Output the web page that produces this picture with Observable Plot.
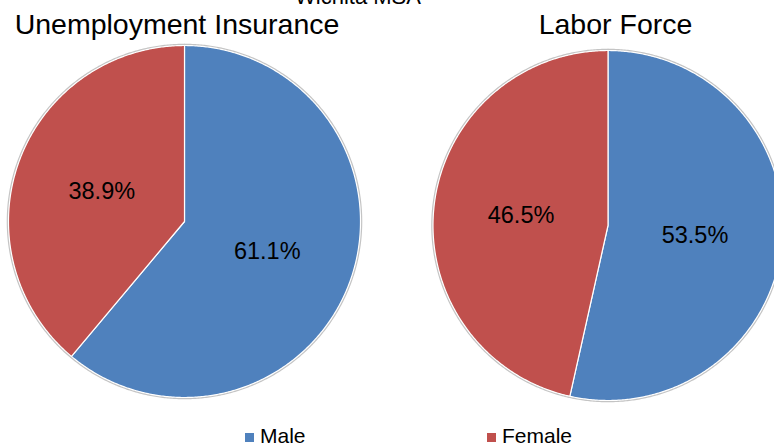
<!DOCTYPE html>
<html><head><meta charset="utf-8">
<script src="https://cdn.jsdelivr.net/npm/d3@7"></script>
<script src="https://cdn.jsdelivr.net/npm/@observablehq/plot@0.6"></script>
<style>
html,body{margin:0;padding:0;background:#fff;overflow:hidden;}
#root{position:relative;width:774px;height:446px;overflow:hidden;font-family:"Liberation Sans",Arial,sans-serif;}
.t{position:absolute;white-space:nowrap;color:#000;line-height:1;}
.p{position:absolute;}
.p svg{max-width:none !important;}
.sw{position:absolute;width:9px;height:9px;}
</style></head><body><div id="root"></div>
<script>
// ---- data ----
const suptitle = "Wichita MSA";
const charts = ["Unemployment Insurance", "Labor Force"];
const groups = ["Male", "Female"];
const maleShare = [61.1, 53.5];
const femaleShare = [38.9, 46.5];
const colors = ["#4F81BD", "#C0504D"];

// ---- layout ----
const root = document.getElementById("root");
const layout = [
  {left: 0, top: 40, width: 368, height: 362, mL: 8, mR: 8, mT: 5, mB: 5, titleX: 177},
  {left: 420, top: 40, width: 370, height: 365, mL: 12.5, mR: 7.5, mT: 10, mB: 5, titleX: 615.5}
];
const fmt = d3.format(".1f");

function addText(txt, cx, top, size) {
  const s = document.createElement("div");
  s.className = "t";
  s.textContent = txt;
  s.style.left = cx + "px";
  s.style.top = top + "px";
  s.style.fontSize = size + "px";
  s.style.transform = "translateX(-50%)";
  root.appendChild(s);
}

addText(suptitle, 358, 5 - 0.8465 * 22, 22);

charts.forEach((name, i) => {
  const L = layout[i];
  const values = [maleShare[i], femaleShare[i]];
  const arcs = d3.pie().sort(null).value(d => d.v)(groups.map((g, j) => ({g, v: values[j]})));
  const poly = [], rim = [], labels = [];
  arcs.forEach(a => {
    const g = a.data.g;
    poly.push({g, x: 0, y: 0});
    const n = Math.max(2, Math.ceil((a.endAngle - a.startAngle) / (Math.PI / 360)));
    for (let k = 0; k <= n; k++) {
      const t = a.startAngle + (a.endAngle - a.startAngle) * k / n;
      poly.push({g, x: Math.sin(t), y: Math.cos(t)});
      rim.push({g, x: Math.sin(t) * 1.003, y: Math.cos(t) * 1.003});
    }
    const m = (a.startAngle + a.endAngle) / 2;
    labels.push({g, x: 0.5 * Math.sin(m), y: 0.5 * Math.cos(m), text: fmt(a.data.v) + "%"});
  });

  const svg = Plot.plot({
    width: L.width, height: L.height,
    marginLeft: L.mL, marginRight: L.mR, marginTop: L.mT, marginBottom: L.mB,
    x: {domain: [-1, 1], axis: null},
    y: {domain: [-1, 1], axis: null},
    color: {domain: groups, range: colors},
    style: {fontFamily: "Liberation Sans, Arial, sans-serif", background: "transparent", overflow: "visible", maxWidth: "none"},
    marks: [
      Plot.line(rim, {x: "x", y: "y", z: "g", stroke: "#c4c4c4", strokeWidth: 2.5}),
      Plot.line(poly, {x: "x", y: "y", z: "g", fill: "g", stroke: "white", strokeWidth: 1.2, curve: "linear-closed"}),
      Plot.text(labels, {x: "x", y: "y", text: "text", fontSize: 23.5, fill: "black"})
    ]
  });
  svg.style.maxWidth = "none";
  const wrap = document.createElement("div");
  wrap.className = "p";
  wrap.style.left = L.left + "px";
  wrap.style.top = L.top + "px";
  wrap.style.width = L.width + "px";
  wrap.appendChild(svg);
  root.appendChild(wrap);
  addText(name, L.titleX, 34 - 0.8465 * 28.5, 28.5);
});

// legend
const legendPos = [{sq: 245, tx: 260}, {sq: 487, tx: 502}];
groups.forEach((g, j) => {
  const sw = document.createElement("div");
  sw.className = "sw";
  sw.style.left = legendPos[j].sq + "px";
  sw.style.top = "433px";
  sw.style.background = colors[j];
  root.appendChild(sw);
  const s = document.createElement("div");
  s.className = "t";
  s.textContent = g;
  s.style.left = legendPos[j].tx + "px";
  s.style.top = (443 - 0.8465 * 21) + "px";
  s.style.fontSize = "21px";
  root.appendChild(s);
});
</script></body></html>
